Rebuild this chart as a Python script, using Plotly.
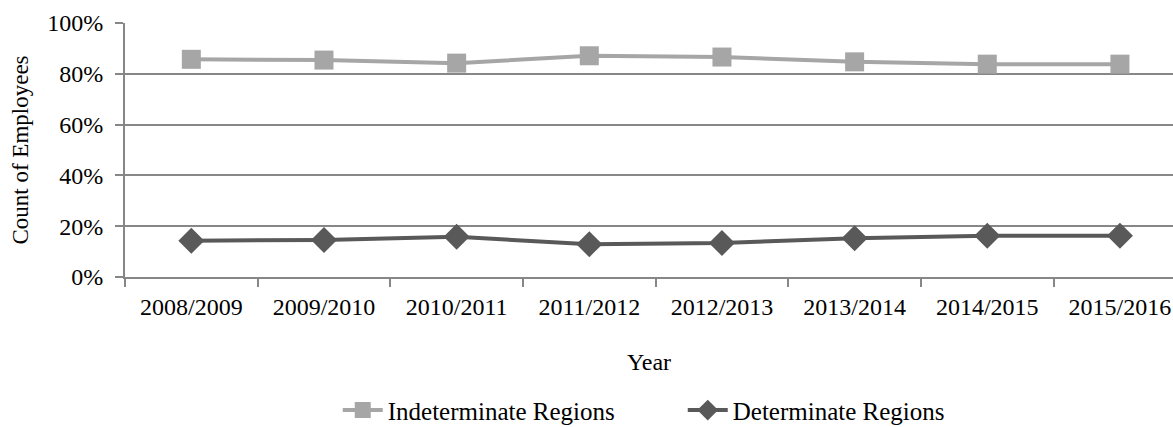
import plotly.graph_objects as go

years = ["2008/2009", "2009/2010", "2010/2011", "2011/2012",
         "2012/2013", "2013/2014", "2014/2015", "2015/2016"]
indeterminate = [0.857, 0.854, 0.842, 0.871, 0.866, 0.847, 0.838, 0.838]
determinate = [0.143, 0.146, 0.158, 0.129, 0.134, 0.153, 0.162, 0.162]

FONT = "Liberation Serif"
GRID = "#878787"

fig = go.Figure()
fig.add_trace(go.Scatter(
    x=years, y=indeterminate, name="Indeterminate Regions",
    mode="lines+markers",
    line=dict(color="#A6A6A6", width=4),
    marker=dict(symbol="square", size=19, color="#A6A6A6"),
))
fig.add_trace(go.Scatter(
    x=years, y=determinate, name="Determinate Regions",
    mode="lines+markers",
    line=dict(color="#595959", width=4),
    marker=dict(symbol="diamond", size=20, color="#595959"),
))

fig.update_layout(
    width=1173, height=427,
    margin=dict(l=125, r=0, t=23, b=150, autoexpand=False),
    paper_bgcolor="white", plot_bgcolor="white",
    font=dict(family=FONT, size=24, color="#000000"),
    showlegend=True,
    legend=dict(orientation="h", x=0.203, xanchor="left",
                y=-0.525, yanchor="middle",
                font=dict(family=FONT, size=25),
                entrywidth=290, itemwidth=40, traceorder="normal"),
    xaxis=dict(
        type="category", range=[-0.5, 7.40], automargin=False,
        tickson="boundaries", ticks="outside", ticklen=8, tickcolor=GRID,
        tickwidth=2, ticklabelstandoff=7,
        showline=True, linecolor=GRID, linewidth=2,
        showgrid=False, tickfont=dict(size=24),
        title=dict(text="Year", font=dict(size=24), standoff=34),
    ),
    yaxis=dict(
        range=[0, 1], tickvals=[0, 0.2, 0.4, 0.6, 0.8, 1.0], automargin=False,
        tickformat=".0%", ticks="outside", ticklen=8, tickcolor=GRID,
        tickwidth=2, ticklabelstandoff=7,
        showline=True, linecolor=GRID, linewidth=2,
        showgrid=True, gridcolor=GRID, gridwidth=2,
        zeroline=False, tickfont=dict(size=24),
        title=dict(text="Count of Employees", font=dict(size=23), standoff=12),
    ),
)

fig.write_html("out.html")
